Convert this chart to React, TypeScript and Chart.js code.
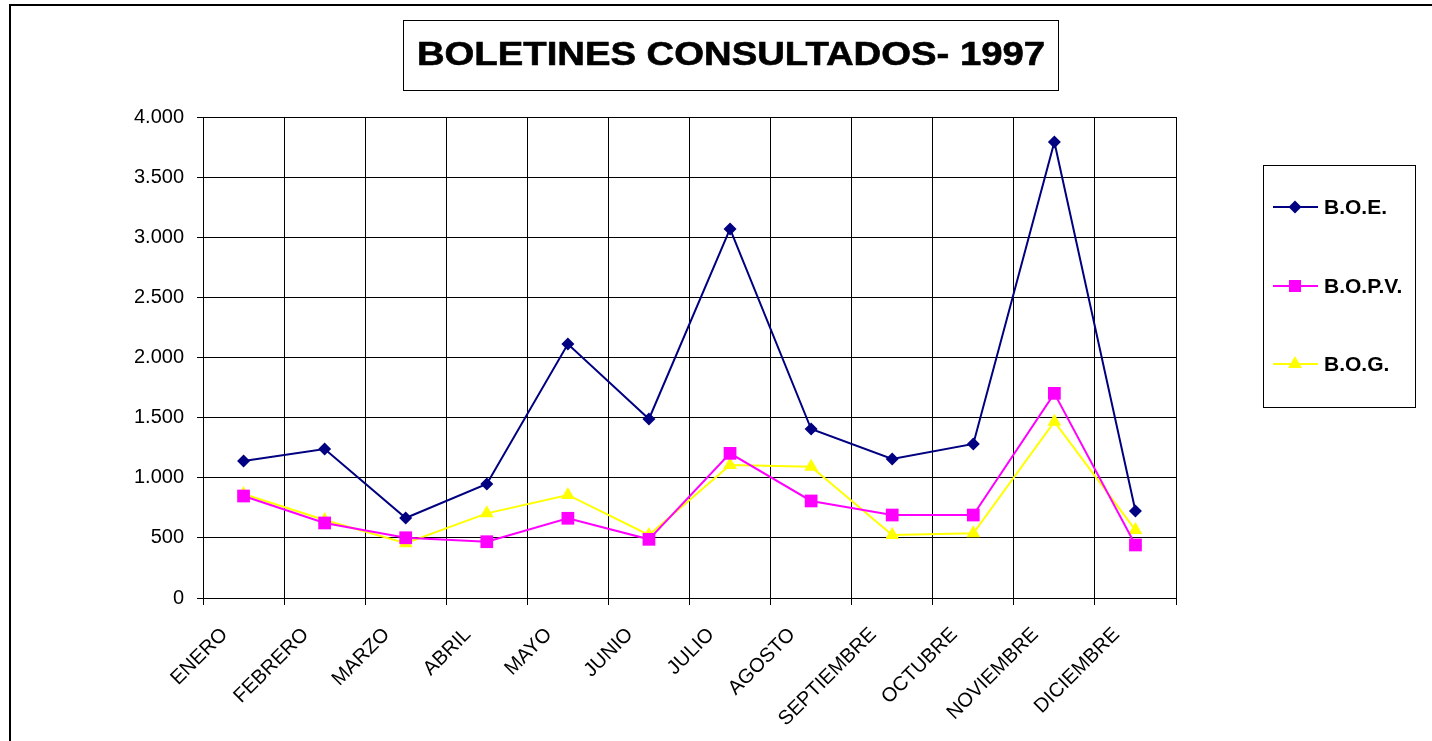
import React, { useEffect, useRef } from "react";
import { Chart, registerables } from "chart.js";

Chart.register(...registerables);

const categories = [
  "ENERO", "FEBRERO", "MARZO", "ABRIL", "MAYO", "JUNIO",
  "JULIO", "AGOSTO", "SEPTIEMBRE", "OCTUBRE", "NOVIEMBRE", "DICIEMBRE",
];
const boe = [1139, 1239, 665, 948, 2112, 1489, 3069, 1405, 1156, 1281, 3792, 723];
const bopv = [848, 624, 501, 468, 663, 488, 1203, 807, 690, 690, 1702, 441];
const bog = [865, 649, 455, 704, 857, 524, 1106, 1092, 524, 538, 1466, 565];
const seriesNames = ["B.O.E.", "B.O.P.V.", "B.O.G."];
const seriesColors = ["#000080", "#FF00FF", "#FFFF00"];
const titleText = "BOLETINES CONSULTADOS- 1997";
const yMin = 0;
const yMax = 4000;
const yStep = 500;

const FONT = "'Liberation Sans', Arial, sans-serif";

function fmt(v: number): string {
  if (v >= 1000) {
    return Math.floor(v / 1000) + "." + String(v % 1000).padStart(3, "0");
  }
  return String(v);
}

function drawMarker(ctx: CanvasRenderingContext2D, kind: number, x: number, y: number, color: string) {
  ctx.fillStyle = color;
  ctx.beginPath();
  if (kind === 0) {
    const r = 6.5;
    ctx.moveTo(x - r, y);
    ctx.lineTo(x, y - r);
    ctx.lineTo(x + r, y);
    ctx.lineTo(x, y + r);
  } else if (kind === 1) {
    const s = 6;
    ctx.rect(x - s, y - s, 2 * s, 2 * s);
  } else {
    const r = 8;
    ctx.moveTo(x, y - r);
    ctx.lineTo(x + r * Math.cos(Math.PI / 6), y + r / 2);
    ctx.lineTo(x - r * Math.cos(Math.PI / 6), y + r / 2);
  }
  ctx.closePath();
  ctx.fill();
}

const decorPlugin = {
  id: "decor",
  afterDraw(chart: any) {
    const ctx: CanvasRenderingContext2D = chart.ctx;
    ctx.save();
    // outer frame
    ctx.strokeStyle = "#000";
    ctx.lineWidth = 2;
    ctx.beginPath();
    ctx.moveTo(10, 800);
    ctx.lineTo(10, 5);
    ctx.lineTo(1440, 5);
    ctx.stroke();

    // title box
    ctx.lineWidth = 1;
    ctx.strokeRect(403.5, 20.5, 655, 70);
    ctx.fillStyle = "#000";
    ctx.strokeStyle = "#000";
    ctx.font = `bold 33px ${FONT}`;
    ctx.textAlign = "center";
    ctx.textBaseline = "alphabetic";
    ctx.save();
    ctx.translate(731, 65);
    ctx.scale(1.16, 1);
    ctx.lineWidth = 0.6;
    ctx.fillText(titleText, 0, 0);
    ctx.strokeText(titleText, 0, 0);
    ctx.restore();

    // legend box
    ctx.strokeStyle = "#000";
    ctx.lineWidth = 1;
    ctx.strokeRect(1263.5, 165.5, 152, 242);
    const ys = [207, 286, 364];
    for (let i = 0; i < 3; i++) {
      const y = ys[i];
      ctx.strokeStyle = seriesColors[i];
      ctx.lineWidth = 2;
      ctx.beginPath();
      ctx.moveTo(1273, y);
      ctx.lineTo(1318, y);
      ctx.stroke();
      drawMarker(ctx, i, 1295, y, seriesColors[i]);
      ctx.fillStyle = "#000";
      ctx.font = `bold 21px ${FONT}`;
      ctx.textAlign = "left";
      ctx.textBaseline = "middle";
      ctx.fillText(seriesNames[i], 1324, y + 1);
    }
    ctx.restore();
  },
};

export default function App() {
  const ref = useRef<HTMLCanvasElement | null>(null);
  useEffect(() => {
    if (!ref.current) return;
    const chart = new Chart(ref.current, {
      type: "line",
      data: {
        labels: categories,
        datasets: [
          {
            label: seriesNames[0],
            data: boe,
            borderColor: seriesColors[0],
            backgroundColor: seriesColors[0],
            borderWidth: 2,
            pointStyle: "rectRot",
            pointRadius: 6.5,
            pointBorderWidth: 0,
            tension: 0,
          },
          {
            label: seriesNames[1],
            data: bopv,
            borderColor: seriesColors[1],
            backgroundColor: seriesColors[1],
            borderWidth: 2,
            pointStyle: "rect",
            pointRadius: 9,
            pointBorderWidth: 0,
            tension: 0,
          },
          {
            label: seriesNames[2],
            data: bog,
            borderColor: seriesColors[2],
            backgroundColor: seriesColors[2],
            borderWidth: 2,
            pointStyle: "triangle",
            pointRadius: 8,
            pointBorderWidth: 0,
            tension: 0,
          },
        ],
      },
      options: {
        animation: false,
        responsive: false,
        devicePixelRatio: 1,
        layout: { padding: { left: 20, top: 117, right: 256, bottom: 0 } },
        plugins: {
          legend: { display: false },
          title: { display: false },
          tooltip: { enabled: false },
        },
        scales: {
          x: {
            type: "category",
            offset: true,
            grid: {
              offset: true,
              color: (c: any) => (c.index === categories.length ? "rgba(0,0,0,0)" : "#000"),
              tickColor: "#000",
              tickLength: 7,
              lineWidth: 1,
            },
            border: { color: "#000", width: 1 },
            ticks: {
              autoSkip: false,
              minRotation: 45,
              maxRotation: 45,
              color: "#000",
              padding: 18,
              labelOffset: -19,
              font: { family: FONT, size: 20 },
            },
            afterFit: (s: any) => {
              s.height = 741 - 598;
            },
          },
          y: {
            min: yMin,
            max: yMax,
            grid: { color: "#000", tickColor: "#000", tickLength: 6, lineWidth: 1 },
            border: { color: "#000", width: 1 },
            ticks: {
              stepSize: yStep,
              color: "#000",
              padding: 13,
              font: { family: FONT, size: 20 },
              callback: (v: any) => fmt(Number(v)),
            },
            afterFit: (s: any) => {
              s.width = 203 - 20;
            },
          },
        },
      },
      plugins: [decorPlugin],
    });
    return () => chart.destroy();
  }, []);
  return (
    <div style={{ position: "absolute", left: 0, top: 0, width: 1432, height: 741, background: "#fff" }}>
      <canvas ref={ref} width={1432} height={741} style={{ display: "block" }} />
    </div>
  );
}
